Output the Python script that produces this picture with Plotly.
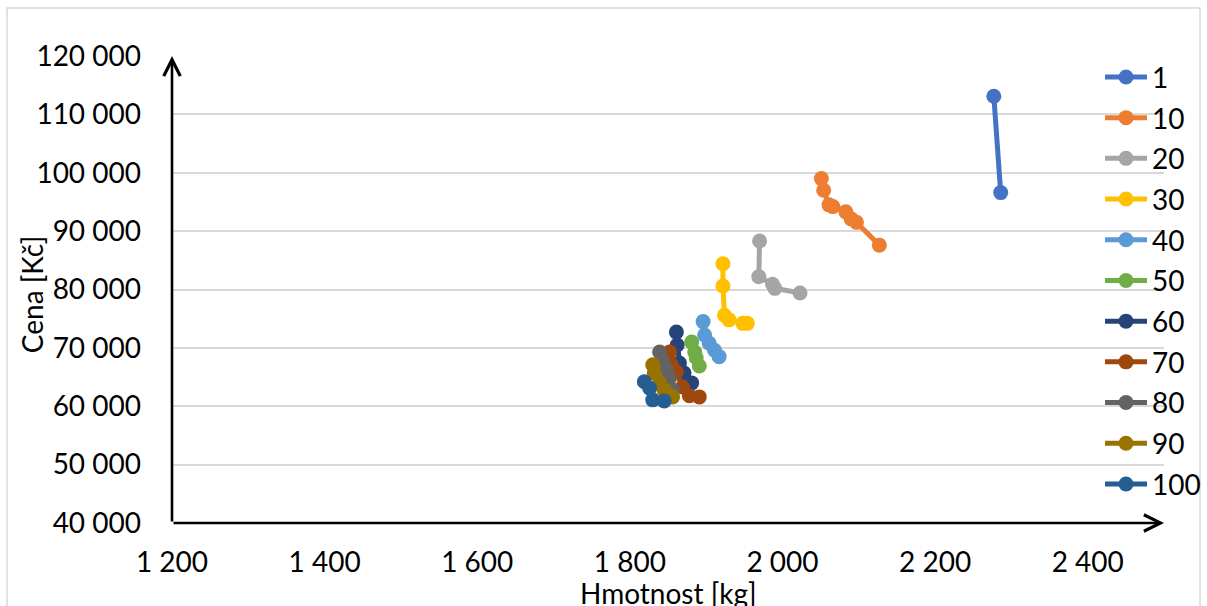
import plotly.graph_objects as go

# ---- data ----
series_names = ["1", "10", "20", "30", "40", "50", "60", "70", "80", "90", "100"]
series_colors = ["#4472C4", "#ED7D31", "#A5A5A5", "#FFC000", "#5B9BD5", "#70AD47",
                 "#264478", "#9E480E", "#636363", "#997300", "#255E91"]

mass_1 = [2277, 2286]
price_1 = [113100, 96600]

mass_10 = [2051, 2054, 2061, 2066, 2083, 2090, 2097, 2127]
price_10 = [99000, 97000, 94500, 94200, 93300, 92100, 91500, 87600]

mass_20 = [1970, 1969, 1987, 1990, 2023]
price_20 = [88300, 82200, 80900, 80200, 79400]

mass_30 = [1922, 1922, 1924, 1930, 1948, 1954]
price_30 = [84400, 80600, 75600, 74800, 74200, 74200]

mass_40 = [1896, 1898, 1904, 1911, 1917]
price_40 = [74500, 72200, 70800, 69600, 68500]

mass_50 = [1881, 1885, 1887, 1891]
price_50 = [71000, 69300, 68300, 66900]

mass_60 = [1861, 1862, 1865, 1871, 1881]
price_60 = [72700, 70500, 67400, 65700, 64000]

mass_70 = [1852, 1854, 1861, 1869, 1878, 1891]
price_70 = [69300, 67200, 65900, 63300, 61800, 61600]

mass_80 = [1839, 1843, 1848, 1852, 1856]
price_80 = [69300, 67900, 66200, 64800, 62800]

mass_90 = [1830, 1832, 1839, 1845, 1852, 1856]
price_90 = [67100, 65700, 64000, 62800, 61900, 61600]

mass_100 = [1819, 1826, 1830, 1845]
price_100 = [64200, 63100, 61100, 60900]

x_tickvals = [1200, 1400, 1600, 1800, 2000, 2200, 2400]
x_ticktext = ["1 200", "1 400", "1 600", "1 800", "2 000", "2 200", "2 400"]
y_tickvals = [40000, 50000, 60000, 70000, 80000, 90000, 100000, 110000, 120000]
y_ticktext = ["40 000", "50 000", "60 000", "70 000", "80 000", "90 000",
              "100 000", "110 000", "120 000"]

x_title = "Hmotnost [kg]"
y_title = "Cena [Kč]"

masses = [mass_1, mass_10, mass_20, mass_30, mass_40, mass_50, mass_60,
          mass_70, mass_80, mass_90, mass_100]
prices = [price_1, price_10, price_20, price_30, price_40, price_50, price_60,
          price_70, price_80, price_90, price_100]

FONT = "Lato"

fig = go.Figure()
for name, col, xs, ys in zip(series_names, series_colors, masses, prices):
    fig.add_trace(go.Scatter(
        x=xs, y=ys, name=name, mode="lines+markers",
        line=dict(color=col, width=5),
        marker=dict(color=col, size=15),
        legendgroup=name,
    ))

fig.update_layout(
    width=1207, height=606, autosize=False,
    margin=dict(l=172, r=43, t=56, b=83, pad=0, autoexpand=False),
    paper_bgcolor="white", plot_bgcolor="white",
    font=dict(family=FONT, size=28, color="black"),
    showlegend=True,
    legend=dict(
        x=0.9355, xanchor="left", y=1.008, yanchor="top",
        font=dict(family=FONT, size=28, color="black"),
        bgcolor="rgba(0,0,0,0)", tracegroupgap=1.3,
        itemwidth=42, maxheight=600,
    ),
    xaxis=dict(
        range=[1200, 2500], tickvals=x_tickvals, ticktext=x_ticktext,
        showgrid=False, zeroline=False, showline=False, ticks="",
        ticklabelstandoff=20,
        tickfont=dict(family=FONT, size=28, color="black"),
    ),
    yaxis=dict(
        range=[40000, 120000], tickvals=y_tickvals, ticktext=y_ticktext,
        showgrid=True, gridcolor="#D9D9D9", gridwidth=1.5,
        zeroline=False, showline=False, ticks="",
        ticklabelstandoff=30,
        tickfont=dict(family=FONT, size=28, color="black"),
    ),
    shapes=[dict(type="rect", xref="paper", yref="paper",
                 x0=-0.1663, x1=1.0363, y0=-0.2, y1=1.1028,
                 line=dict(color="#D9D9D9", width=1.5), layer="below")],
    annotations=[
        dict(x=1200, y=120000, xref="x", yref="y", ax=1200, ay=40000,
             axref="x", ayref="y", text="", showarrow=True, arrowhead=5,
             arrowwidth=2.6, arrowsize=1.25, arrowcolor="black"),
        dict(x=2500, y=40000, xref="x", yref="y", ax=1200, ay=40000,
             axref="x", ayref="y", text="", showarrow=True, arrowhead=5,
             arrowwidth=2.6, arrowsize=1.25, arrowcolor="black"),
        dict(x=0.5, y=-0.1092, xref="paper", yref="paper", text=x_title,
             showarrow=False, xanchor="center", yanchor="top",
             font=dict(family=FONT, size=28, color="black")),
        dict(x=-0.1411, y=0.488, xref="paper", yref="paper", text=y_title,
             showarrow=False, xanchor="center", yanchor="middle", textangle=-90,
             font=dict(family=FONT, size=28, color="black")),
    ],
)

fig.write_html("out.html", config={"displayModeBar": False},
               post_script="document.body.style.margin='0';document.body.style.overflow='hidden';")
